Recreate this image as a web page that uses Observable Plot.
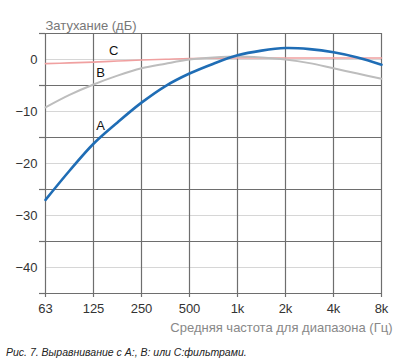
<!DOCTYPE html>
<html><head><meta charset="utf-8">
<script src="https://cdn.jsdelivr.net/npm/d3@7"></script>
<script src="https://cdn.jsdelivr.net/npm/@observablehq/plot@0.6"></script>
<style>
body{margin:0;background:#fff;font-family:"Liberation Sans",Arial,sans-serif;}
#cap{font:italic 10.5px "Liberation Sans",Arial,sans-serif;color:#222;padding-left:6px;margin-top:4px;}
</style></head><body>
<div id="chart"></div>
<div id="cap">Рис. 7. Выравнивание с A:, B: или C:фильтрами.</div>
<script>
const freqLabels = ["63","125","250","500","1k","2k","4k","8k"];
const xPos = [0,0.5,1,1.5,2,2.5,3,3.5,4,4.5,5,5.5,6,6.5,7];
const seriesA = [-27,-21.4,-16.2,-12.1,-8.3,-5.1,-2.7,-0.8,0.8,1.7,2.2,2.0,1.4,0.4,-1.0];
const seriesB = [-9.2,-6.8,-4.8,-3.1,-1.7,-0.8,0,0.4,0.6,0.4,0,-0.7,-1.7,-2.7,-3.7];
const seriesC = [-0.8,-0.65,-0.5,-0.3,-0.1,0.05,0.2,0.25,0.3,0.3,0.3,0.3,0.3,0.3,0.3];
const lightTicks = [0,-10,-20,-30,-40];
const darkTicks = [5,-5,-15,-25,-35,-45];
const curveLabels = [{t:"C",x:1.42,y:1.7},{t:"B",x:1.15,y:-2.6},{t:"A",x:1.15,y:-12.8}];
const yTitle = "Затухание (дБ)";
const xTitle = "Средняя частота для диапазона (Гц)";

const mk = (ys) => xPos.map((x,i)=>({x, y: ys[i]}));
const A = mk(seriesA), B = mk(seriesB), C = mk(seriesC);

const chart = Plot.plot({
  width: 400, height: 342,
  marginTop: 33, marginBottom: 49, marginLeft: 45, marginRight: 19,
  style: {fontFamily: "'Liberation Sans', Arial, sans-serif", fontSize: "12px", color: "#333"},
  x: {domain: [0,7], axis: null},
  y: {domain: [-45,5], axis: null},
  marks: [
    Plot.gridY({ticks: lightTicks, stroke: "#d6d6d6", strokeOpacity: 1}),
    Plot.gridY({ticks: darkTicks, stroke: "#6e6e6e", strokeOpacity: 1, strokeWidth: 1.2}),
    Plot.gridX({ticks: d3.range(freqLabels.length), stroke: "#6e6e6e", strokeOpacity: 1, strokeWidth: 1.2}),
    Plot.axisY({ticks: darkTicks, tickSize: 6, tickFormat: () => "", stroke: "#6e6e6e", strokeWidth: 1.2, label: null}),
    Plot.axisY({ticks: lightTicks, tickSize: 0, tickPadding: 8, fontSize: 13, label: null}),
    Plot.axisX({ticks: d3.range(freqLabels.length), tickSize: 4, tickPadding: 6, fontSize: 13,
      tickFormat: i => freqLabels[i], stroke: "#6e6e6e", strokeWidth: 1.2, label: null}),
    Plot.line(C, {x: "x", y: "y", stroke: "#f0a0a0", strokeWidth: 1.6, curve: "catmull-rom"}),
    Plot.line(B, {x: "x", y: "y", stroke: "#bdbdbd", strokeWidth: 2, curve: "catmull-rom"}),
    Plot.line(A, {x: "x", y: "y", stroke: "#1f6db5", strokeWidth: 2.6, curve: "catmull-rom"}),
    Plot.text(curveLabels, {x: "x", y: "y", text: "t", fontSize: 13, fill: "#111"}),
    Plot.text([yTitle], {frameAnchor: "top-left", text: d => d, dy: -13, dx: 0, textAnchor: "start", fill: "#777", fontSize: 13}),
    Plot.text([xTitle], {frameAnchor: "bottom-right", text: d => d, dy: 38, dx: 11, textAnchor: "end", fill: "#888", fontSize: 13})
  ]
});
document.getElementById("chart").appendChild(chart);
</script></body></html>
